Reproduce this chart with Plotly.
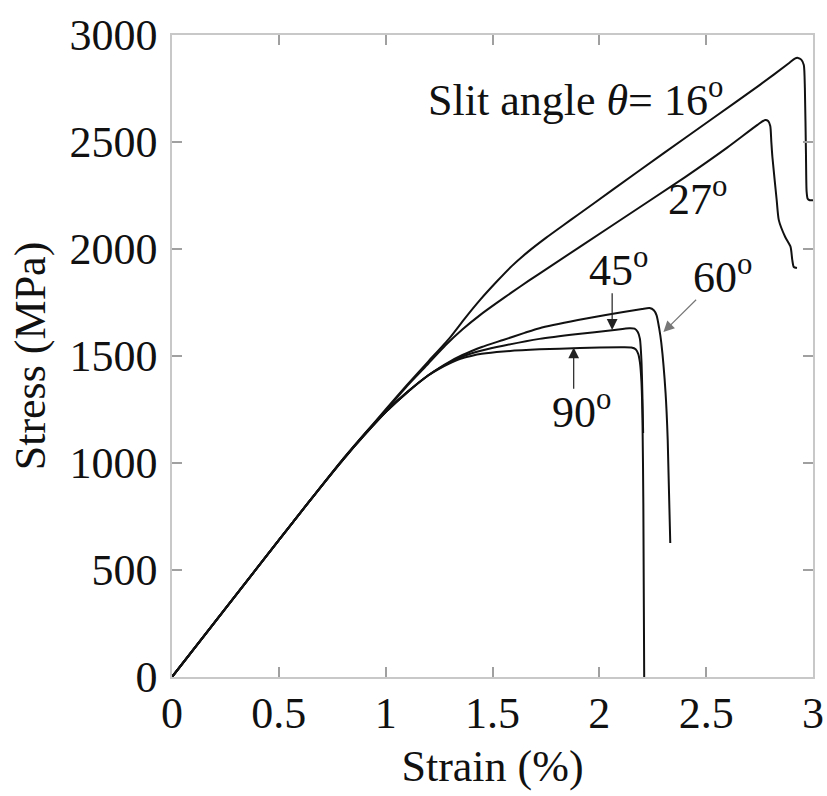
import plotly.graph_objects as go

# Stress-strain curves for slit angles (strain in %, stress in MPa)
strain_16 = [0, 0.5, 0.65, 0.8, 0.9, 1.0, 1.1, 1.2, 1.3, 1.37, 1.44, 1.52, 1.59, 1.67, 1.75, 1.83,
             1.9, 2.06, 2.3, 2.53, 2.75, 2.89, 2.915, 2.93, 2.945, 2.957, 2.962, 2.967, 2.97,
             2.975, 2.985, 3.0]
stress_16 = [0, 640, 830, 1018, 1135, 1250, 1365, 1475, 1585, 1675, 1760, 1848, 1920, 1990, 2052,
             2110, 2160, 2275, 2447, 2610, 2766, 2870, 2890, 2893, 2885, 2860, 2750, 2450, 2270,
             2235, 2228, 2228]

strain_27 = [0, 0.5, 0.65, 0.8, 0.9, 1.0, 1.1, 1.2, 1.28, 1.36, 1.44, 1.52, 1.59, 1.67, 1.75, 2.06,
             2.4, 2.6, 2.74, 2.776, 2.79, 2.8, 2.805, 2.81, 2.83, 2.84, 2.87, 2.895, 2.903, 2.91,
             2.925]
stress_27 = [0, 640, 830, 1018, 1135, 1245, 1360, 1465, 1550, 1625, 1690, 1748, 1797, 1852, 1905,
             2110, 2335, 2475, 2580, 2603, 2598, 2575, 2500, 2430, 2229, 2135, 2056, 2010, 1949,
             1916, 1911]

strain_45 = [0, 0.5, 0.65, 0.8, 0.9, 1.0, 1.1, 1.2, 1.25, 1.3, 1.35, 1.4, 1.45, 1.55, 1.72, 1.9,
             2.06, 2.14, 2.165, 2.18, 2.19, 2.197, 2.202, 2.205]
stress_45 = [0, 640, 830, 1015, 1130, 1238, 1330, 1410, 1442, 1470, 1494, 1512, 1526, 1548, 1580,
             1603, 1620, 1630, 1628, 1612, 1580, 1480, 1300, 1140]

strain_60 = [0, 0.5, 0.65, 0.8, 0.9, 1.0, 1.1, 1.2, 1.25, 1.3, 1.35, 1.4, 1.45, 1.55, 1.65, 1.72,
             1.9, 2.03, 2.2, 2.235, 2.255, 2.268, 2.28, 2.29, 2.31, 2.32, 2.332]
stress_60 = [0, 640, 830, 1015, 1130, 1238, 1330, 1410, 1444, 1474, 1500, 1522, 1542, 1575, 1608,
             1630, 1668, 1692, 1720, 1724, 1714, 1690, 1630, 1561, 1327, 1108, 626]

strain_90 = [0, 0.5, 0.65, 0.8, 0.9, 1.0, 1.1, 1.2, 1.25, 1.3, 1.35, 1.4, 1.45, 1.55, 1.72, 1.91,
             2.1, 2.15, 2.17, 2.182, 2.19, 2.197, 2.202, 2.206, 2.21]
stress_90 = [0, 640, 830, 1015, 1130, 1238, 1330, 1410, 1440, 1466, 1487, 1500, 1510, 1521, 1531,
             1537, 1541, 1540, 1532, 1510, 1470, 1380, 1200, 800, 0]

x_ticks = [0, 0.5, 1, 1.5, 2, 2.5, 3]
x_tick_text = ["0", "0.5", "1", "1.5", "2", "2.5", "3"]
y_ticks = [0, 500, 1000, 1500, 2000, 2500, 3000]

curves = [
    (strain_16, stress_16),
    (strain_27, stress_27),
    (strain_45, stress_45),
    (strain_60, stress_60),
    (strain_90, stress_90),
]

FONT = "Liberation Serif, Times New Roman, serif"
LINE = "#111111"
FRAME = "#c8c8c8"
TICK = "#a0a0a0"
FS = 44

fig = go.Figure()
for xs, ys in curves:
    fig.add_trace(go.Scatter(x=xs, y=ys, mode="lines",
                             line=dict(color=LINE, width=2, shape="spline", smoothing=0.6),
                             showlegend=False, hoverinfo="skip"))

axis_common = dict(
    showgrid=False, zeroline=False, automargin=False,
    showline=True, linecolor=FRAME, linewidth=1.5, mirror="ticks",
    ticks="inside", ticklen=10, tickwidth=1.5, tickcolor=TICK,
    tickfont=dict(family=FONT, size=FS, color="#111111"),
    title_font=dict(family=FONT, size=FS, color="#111111"),
)

fig.update_xaxes(range=[0, 3], tickvals=x_ticks, ticktext=x_tick_text, ticklabelstandoff=-4,
                 title_text="Strain (%)", title_standoff=14, **axis_common)
fig.update_yaxes(range=[0, 3000], tickvals=y_ticks, ticklabelstandoff=4,
                 title_text="Stress (MPa)", title_standoff=10, **axis_common)

text_font = dict(family=FONT, size=FS, color="#111111")

# Curve labels
fig.add_annotation(x=1.19, y=2710, xref="x", yref="y", xanchor="left", yanchor="middle",
                   text="Slit angle <i>θ</i>= 16<sup>o</sup>", showarrow=False, font=text_font)
fig.add_annotation(x=2.46, y=2245, xref="x", yref="y", xanchor="center", yanchor="middle",
                   text="27<sup>o</sup>", showarrow=False, font=text_font)
fig.add_annotation(x=2.09, y=1915, xref="x", yref="y", xanchor="center", yanchor="middle",
                   text="45<sup>o</sup>", showarrow=False, font=text_font)
fig.add_annotation(x=2.575, y=1880, xref="x", yref="y", xanchor="center", yanchor="middle",
                   text="60<sup>o</sup>", showarrow=False, font=text_font)
fig.add_annotation(x=1.915, y=1250, xref="x", yref="y", xanchor="center", yanchor="middle",
                   text="90<sup>o</sup>", showarrow=False, font=text_font)

# Pointer arrows to the 45°, 60° and 90° curves
arrow_specs = [
    (2.06, 1622, 2.06, 1800, "#222222"),
    (2.30, 1612, 2.46, 1770, "#777777"),
    (1.88, 1540, 1.88, 1340, "#222222"),
]
for x, y, ax, ay, col in arrow_specs:
    fig.add_annotation(x=x, y=y, ax=ax, ay=ay, xref="x", yref="y", axref="x", ayref="y",
                       showarrow=True, arrowhead=2, arrowsize=1.8, arrowwidth=1.2,
                       arrowcolor=col, standoff=0, text="")

fig.update_layout(
    width=827, height=796,
    margin=dict(l=172, r=14, t=35, b=119),
    paper_bgcolor="white", plot_bgcolor="white",
)

fig.write_html("out.html")
